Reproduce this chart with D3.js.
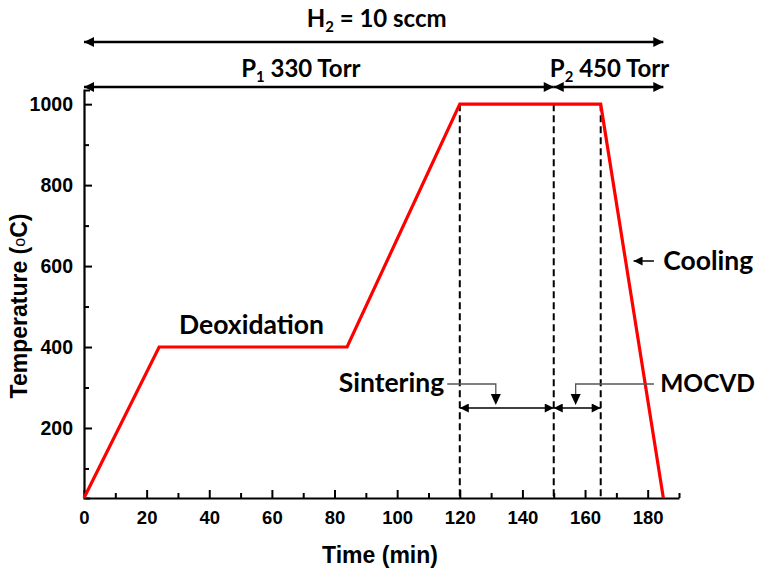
<!DOCTYPE html>
<html><head><meta charset="utf-8">
<script src="https://cdn.jsdelivr.net/npm/d3@7"></script>
<style>
html,body{margin:0;padding:0;background:#fff;}
.ann{font-family:Lato,"Open Sans",sans-serif;font-weight:700;fill:#000;}
.ax{font-family:"Liberation Sans",Arial,sans-serif;font-weight:700;}
</style>
</head><body>
<svg id="chart" width="759" height="572"></svg>
<script>
// ---- data ----
const profileTime = [0, 24, 84, 120, 165, 185];
const profileTemp = [27, 400, 400, 1000, 1000, 27];
const dashedTimes = [120, 150, 165];
const xTicks = [0, 20, 40, 60, 80, 100, 120, 140, 160, 180];
const yTicks = [200, 400, 600, 800, 1000];
const gasSpan = {label: "H", sub: "2", rest: " = 10 sccm", from: 0, to: 185};
const pressureSpans = [
  {label: "P", sub: "1", rest: " 330 Torr", from: 0, to: 150},
  {label: "P", sub: "2", rest: " 450 Torr", from: 150, to: 185}
];
const stepSpans = [
  {label: "Sintering", from: 120, to: 150},
  {label: "MOCVD", from: 150, to: 165}
];

const svg = d3.select("#chart");
const x = d3.scaleLinear().domain([0, 190]).range([84, 679]);
const y = d3.scaleLinear().domain([27, 1035]).range([498, 90]);

// defs markers
const defs = svg.append("defs");
function marker(id, w, h, orient){
  defs.append("marker").attr("id", id).attr("viewBox", "0 0 10 10")
    .attr("refX", 10).attr("refY", 5).attr("markerWidth", w).attr("markerHeight", h)
    .attr("markerUnits", "userSpaceOnUse").attr("orient", orient)
    .append("path").attr("d", "M0,0 L10,5 L0,10 Z").attr("fill", "#000");
}
marker("bigEnd", 13, 10, "auto");
marker("bigStart", 13, 10, "auto-start-reverse");
marker("smEnd", 11, 9, "auto");
marker("smStart", 11, 9, "auto-start-reverse");

// dashed lines
svg.selectAll(".dash").data(dashedTimes).join("line")
  .attr("x1", d => x(d)).attr("x2", d => x(d))
  .attr("y1", y(1000)).attr("y2", y(27))
  .attr("stroke", "#000").attr("stroke-width", 2).attr("stroke-dasharray", "7,4");

// axes
const xAxis = d3.axisBottom(x).tickValues(d3.range(0, 191, 10))
  .tickSize(-8).tickSizeOuter(0).tickPadding(13)
  .tickFormat(d => xTicks.includes(d) ? d : "");
const gx = svg.append("g").attr("transform", `translate(0,${y(27)})`).call(xAxis);
gx.selectAll(".tick line").attr("y2", d => xTicks.includes(d) ? -8 : -5);

const yAxis = d3.axisLeft(y).tickValues(d3.range(100, 1001, 100))
  .tickSize(-8).tickSizeOuter(-6).tickPadding(11)
  .tickFormat(d => yTicks.includes(d) ? d : "");
const gy = svg.append("g").attr("transform", `translate(${x(0)},0)`).call(yAxis);
gy.selectAll(".tick line").attr("x2", d => yTicks.includes(d) ? 8 : 5);

[gx, gy].forEach(g => {
  g.attr("font-family", null).attr("font-size", null);
  g.selectAll("path.domain").attr("stroke", "#000").attr("stroke-width", 2.2);
  g.selectAll(".tick line").attr("stroke", "#000").attr("stroke-width", 2);
  g.selectAll("text").attr("class", "ax").attr("fill", "#000");
});
gx.selectAll("text").style("font-size", "18.5px");
gy.selectAll("text").style("font-size", "19.5px");

// axis titles
svg.append("text").attr("class", "ax").attr("x", 380).attr("y", 563)
  .attr("text-anchor", "middle").style("font-size", "23px").text("Time (min)");
const yt = svg.append("text").attr("class", "ax")
  .attr("transform", `translate(27,306) rotate(-90)`)
  .attr("text-anchor", "middle").style("font-size", "23px");
yt.append("tspan").text("Temperature (");
yt.append("tspan").attr("font-weight", 400).style("font-size", "16px").attr("dy", -2).text("o");
yt.append("tspan").attr("dy", 2).text("C)");

// profile line
const pts = profileTime.map((t, i) => [t, profileTemp[i]]);
svg.append("path").datum(pts)
  .attr("d", d3.line().x(d => x(d[0])).y(d => y(d[1])))
  .attr("fill", "none").attr("stroke", "#ff0000").attr("stroke-width", 3.2)
  .attr("stroke-linejoin", "miter");

// top spans
function spanText(sp, cx, cy, size){
  const t = svg.append("text").attr("class", "ann").attr("x", cx).attr("y", cy)
    .attr("text-anchor", "middle").style("font-size", size + "px");
  t.append("tspan").text(sp.label);
  t.append("tspan").style("font-size", (size * 0.62) + "px").attr("dy", 5).text(sp.sub);
  t.append("tspan").attr("dy", -5).text(sp.rest);
}
svg.append("line").attr("x1", x(gasSpan.from)).attr("x2", x(gasSpan.to))
  .attr("y1", 42).attr("y2", 42).attr("stroke", "#000").attr("stroke-width", 2.6)
  .attr("marker-start", "url(#bigStart)").attr("marker-end", "url(#bigEnd)");
spanText(gasSpan, (x(gasSpan.from) + x(gasSpan.to)) / 2 + 3, 27, 24);

const labelShift = [-18, 1];
pressureSpans.forEach((sp, i) => {
  svg.append("line").attr("x1", x(sp.from)).attr("x2", x(sp.to))
    .attr("y1", 87).attr("y2", 87).attr("stroke", "#000").attr("stroke-width", 2.6)
    .attr("marker-start", "url(#bigStart)").attr("marker-end", "url(#bigEnd)");
  spanText(sp, (x(sp.from) + x(sp.to)) / 2 + labelShift[i], 77, 24);
});

// step spans
const stepY = 408;
stepSpans.forEach(sp => {
  svg.append("line").attr("x1", x(sp.from)).attr("x2", x(sp.to))
    .attr("y1", stepY).attr("y2", stepY).attr("stroke", "#000").attr("stroke-width", 1.5)
    .attr("marker-start", "url(#smStart)").attr("marker-end", "url(#smEnd)");
});
// Sintering leader
const sMid = x(131.5), mMid = x(157);
svg.append("polyline").attr("points", `${x(116)},384 ${sMid},384 ${sMid},394`)
  .attr("fill", "none").attr("stroke", "#555").attr("stroke-width", 1.3);
svg.append("path").attr("d", `M${sMid-5},394 L${sMid+5},394 L${sMid},405 Z`).attr("fill", "#000");
svg.append("text").attr("class", "ann").attr("x", x(115)).attr("y", 392)
  .attr("text-anchor", "end").style("font-size", "26.5px").text(stepSpans[0].label);
// MOCVD leader
svg.append("polyline").attr("points", `${x(182)},384 ${mMid},384 ${mMid},394`)
  .attr("fill", "none").attr("stroke", "#555").attr("stroke-width", 1.3);
svg.append("path").attr("d", `M${mMid-5},394 L${mMid+5},394 L${mMid},405 Z`).attr("fill", "#000");
svg.append("text").attr("class", "ann").attr("x", x(184)).attr("y", 392)
  .attr("text-anchor", "start").style("font-size", "24.5px").text(stepSpans[1].label);

// Deoxidation
svg.append("text").attr("class", "ann").attr("x", x(53.5)).attr("y", 334)
  .attr("text-anchor", "middle").style("font-size", "26.5px").text("Deoxidation");

// Cooling
svg.append("line").attr("x1", x(182)).attr("x2", x(175.5)).attr("y1", 261).attr("y2", 261)
  .attr("stroke", "#000").attr("stroke-width", 1.5).attr("marker-end", "url(#smEnd)");
svg.append("text").attr("class", "ann").attr("x", x(185)).attr("y", 270)
  .attr("text-anchor", "start").style("font-size", "26.5px").text("Cooling");
</script>
</body></html>
